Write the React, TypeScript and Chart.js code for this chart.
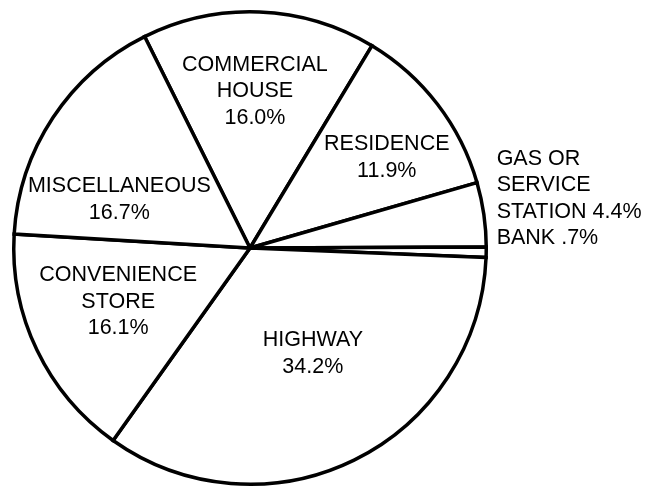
import React, { useEffect, useRef } from "react";
import { Chart, registerables } from "chart.js";

Chart.register(...registerables);

// ---- data ----
const categories = [
  "COMMERCIAL HOUSE",
  "RESIDENCE",
  "GAS OR SERVICE STATION",
  "BANK",
  "HIGHWAY",
  "CONVENIENCE STORE",
  "MISCELLANEOUS",
];
const shares = [16.0, 11.9, 4.4, 0.7, 34.2, 16.1, 16.7];
const shareLabels = ["16.0%", "11.9%", "4.4%", ".7%", "34.2%", "16.1%", "16.7%"];
const nameLines = [
  ["COMMERCIAL", "HOUSE"],
  ["RESIDENCE"],
  ["GAS OR", "SERVICE", "STATION"],
  ["BANK"],
  ["HIGHWAY"],
  ["CONVENIENCE", "STORE"],
  ["MISCELLANEOUS"],
];
// whether the percent sits on the last name line (outside labels) or its own line
const percentInline = [false, false, true, true, false, false, false];

// ---- label layout (style only): position relative to pie center in units of radius ----
const labelPos: [number, number, "center" | "left"][] = [
  [0.021, -0.664, "center"],
  [0.579, -0.383, "center"],
  [1.044, -0.266, "left"],
  [1.044, -0.042, "left"],
  [0.266, 0.446, "center"],
  [-0.558, 0.228, "center"],
  [-0.553, -0.205, "center"],
];

const FONT = '21.5px "Liberation Sans", Arial, Helvetica, sans-serif';
const LINE_H = 26.5;

const labelPlugin = {
  id: "sliceLabels",
  afterDatasetsDraw(chart: any) {
    const meta = chart.getDatasetMeta(0);
    const arcs = meta.data;
    if (!arcs.length) return;
    const a0 = arcs[0];
    const cx = a0.x;
    const cy = a0.y;
    const R = a0.outerRadius;
    const ctx = chart.ctx;
    ctx.save();
    ctx.font = FONT;
    ctx.fillStyle = "#000";
    ctx.textBaseline = "middle";
    for (let i = 0; i < categories.length; i++) {
      const lines = nameLines[i].slice();
      if (percentInline[i]) {
        lines[lines.length - 1] = lines[lines.length - 1] + " " + shareLabels[i];
      } else {
        lines.push(shareLabels[i]);
      }
      const [fx, fy, align] = labelPos[i];
      const x = cx + fx * R;
      const y = cy + fy * R;
      ctx.textAlign = align;
      const n = lines.length;
      for (let k = 0; k < n; k++) {
        const ly = y + (k - (n - 1) / 2) * LINE_H;
        ctx.fillText(lines[k], x, ly);
      }
    }
    ctx.restore();
  },
};

export default function App() {
  const ref = useRef<HTMLCanvasElement>(null);
  useEffect(() => {
    document.body.style.margin = "0";
    const canvas = ref.current!;
    const chart = new Chart(canvas, {
      type: "pie",
      data: {
        labels: categories,
        datasets: [
          {
            data: shares,
            backgroundColor: "#ffffff",
            borderColor: "#000000",
            borderWidth: 3.5,
            borderJoinStyle: "miter",
          } as any,
        ],
      },
      options: {
        responsive: false,
        animation: false,
        devicePixelRatio: 1,
        rotation: -26.5,
        layout: { padding: { left: 12, top: 10, right: 176, bottom: 1 } },
        plugins: {
          legend: { display: false },
          tooltip: { enabled: false },
        },
      } as any,
      plugins: [labelPlugin],
    });
    return () => chart.destroy();
  }, []);
  return (
    <div style={{ position: "absolute", left: 0, top: 0, width: 664, height: 487, background: "#fff" }}>
      <canvas ref={ref} width={664} height={487} style={{ display: "block" }} />
    </div>
  );
}
